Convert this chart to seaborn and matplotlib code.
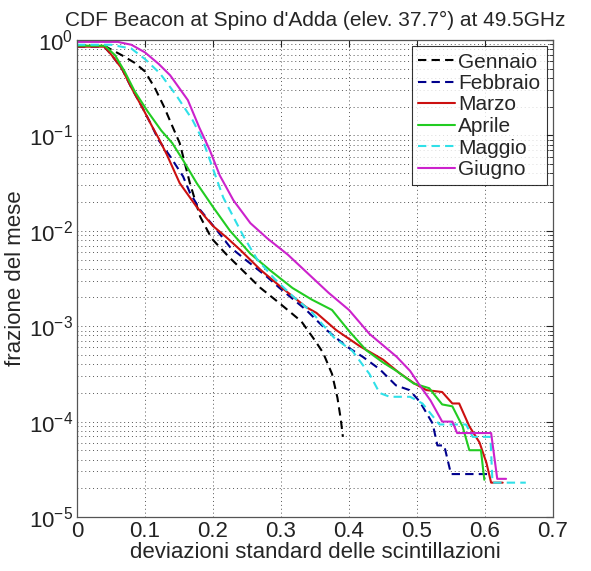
#!/usr/bin/env python3
"""
CDF of scintillation standard deviation, Beacon at Spino d'Adda, 49.5 GHz.
Monthly curves on a log y axis, MATLAB-like look.
"""

import numpy as np
import pandas as pd
import matplotlib
matplotlib.use("Agg")
import matplotlib.pyplot as plt
from matplotlib.ticker import LogLocator, NullFormatter
import seaborn as sns

# ─── Data (x = std dev, y given as log10 of the month fraction) ─────────────
gen_x = [0, 0.04, 0.066, 0.085, 0.10, 0.115, 0.128, 0.14, 0.151, 0.166, 0.181,
         0.198, 0.22, 0.25, 0.27, 0.298, 0.33, 0.35, 0.362, 0.375, 0.383,
         0.388, 0.391]
gen_lg = [-0.06, -0.06, -0.16, -0.24, -0.33, -0.51, -0.70, -0.90, -1.08, -1.50,
          -1.85, -2.08, -2.25, -2.46, -2.60, -2.76, -2.95, -3.15, -3.28, -3.50,
          -3.75, -3.98, -4.16]

feb_x = [0, 0.04, 0.05, 0.066, 0.08, 0.097, 0.11, 0.12, 0.137, 0.156, 0.166,
         0.181, 0.203, 0.225, 0.249, 0.279, 0.298, 0.337, 0.367, 0.396, 0.42,
         0.445, 0.469, 0.489, 0.504, 0.523, 0.530, 0.540, 0.550, 0.603]
feb_lg = [-0.07, -0.07, -0.15, -0.30, -0.50, -0.72, -0.90, -1.05, -1.22, -1.43,
          -1.60, -1.78, -1.97, -2.17, -2.31, -2.48, -2.60, -2.83, -3.04, -3.21,
          -3.32, -3.45, -3.62, -3.67, -3.79, -4.02, -4.25, -4.25, -4.55, -4.55]

mar_x = [0, 0.04, 0.05, 0.066, 0.08, 0.097, 0.11, 0.12, 0.132, 0.151, 0.176,
         0.2, 0.22, 0.24, 0.27, 0.3, 0.337, 0.352, 0.381, 0.416, 0.45, 0.474,
         0.496, 0.514, 0.537, 0.552, 0.562, 0.577, 0.592, 0.602, 0.609, 0.626]
mar_lg = [-0.07, -0.07, -0.15, -0.30, -0.50, -0.72, -0.90, -1.03, -1.20, -1.50,
          -1.75, -1.95, -2.07, -2.20, -2.41, -2.59, -2.80, -2.86, -3.04, -3.21,
          -3.35, -3.49, -3.60, -3.67, -3.69, -3.81, -3.81, -4.05, -4.22, -4.43,
          -4.64, -4.64]

apr_x = [0, 0.041, 0.056, 0.07, 0.085, 0.104, 0.124, 0.14, 0.156, 0.176, 0.2,
         0.225, 0.255, 0.285, 0.317, 0.345, 0.375, 0.40, 0.425, 0.45, 0.47,
         0.495, 0.518, 0.537, 0.552, 0.567, 0.577, 0.594, 0.599]
apr_lg = [-0.06, -0.06, -0.16, -0.33, -0.54, -0.75, -0.95, -1.08, -1.26, -1.50,
          -1.75, -2.00, -2.24, -2.42, -2.60, -2.72, -2.83, -3.05, -3.25, -3.38,
          -3.47, -3.60, -3.65, -3.82, -3.84, -4.05, -4.30, -4.30, -4.61]

mag_x = [0, 0.05, 0.08, 0.10, 0.122, 0.146, 0.17, 0.185, 0.195, 0.215, 0.245,
         0.265, 0.29, 0.318, 0.345, 0.378, 0.405, 0.43, 0.445, 0.46, 0.49,
         0.508, 0.533, 0.572, 0.582, 0.608, 0.611, 0.66]
mag_lg = [-0.05, -0.05, -0.09, -0.20, -0.35, -0.58, -0.84, -1.05, -1.25, -1.65,
          -2.06, -2.30, -2.50, -2.69, -2.85, -3.12, -3.26, -3.50, -3.70, -3.74,
          -3.74, -3.81, -4.03, -4.03, -4.16, -4.16, -4.64, -4.64]

giu_x = [0, 0.06, 0.08, 0.10, 0.12, 0.137, 0.163, 0.18, 0.195, 0.21, 0.23,
         0.255, 0.28, 0.31, 0.34, 0.37, 0.40, 0.43, 0.45, 0.47, 0.49, 0.505,
         0.52, 0.537, 0.552, 0.559, 0.609, 0.618, 0.631]
giu_lg = [-0.02, -0.02, -0.05, -0.13, -0.25, -0.37, -0.63, -0.92, -1.15, -1.42,
          -1.68, -1.92, -2.08, -2.25, -2.45, -2.65, -2.83, -3.08, -3.20, -3.32,
          -3.47, -3.63, -3.78, -4.00, -4.00, -4.12, -4.12, -4.60, -4.60]

months = ["Gennaio", "Febbraio", "Marzo", "Aprile", "Maggio", "Giugno"]
series = [(gen_x, gen_lg), (feb_x, feb_lg), (mar_x, mar_lg),
          (apr_x, apr_lg), (mag_x, mag_lg), (giu_x, giu_lg)]
colors = ["#000000", "#00008C", "#CC1010", "#22CC22", "#30E0E8", "#CC22CC"]
dashed = [True, True, False, False, True, False]

x_ticks = [0, 0.1, 0.2, 0.3, 0.4, 0.5, 0.6, 0.7]
x_ticklabels = ["0", "0.1", "0.2", "0.3", "0.4", "0.5", "0.6", "0.7"]

TITLE = "CDF Beacon at Spino d'Adda (elev. 37.7°) at 49.5GHz"
XLABEL = "deviazioni standard delle scintillazioni"
YLABEL = "frazione del mese"


def build_frame():
    rows = []
    for name, (xs, lgs) in zip(months, series):
        for i, (x, lg) in enumerate(zip(xs, lgs)):
            rows.append({"mese": name, "idx": i, "x": x, "y": 10 ** lg})
    return pd.DataFrame(rows)


def main():
    sns.set_style("white")
    plt.rcParams["font.family"] = ["Liberation Sans", "DejaVu Sans"]
    plt.rcParams["mathtext.fontset"] = "custom"
    plt.rcParams["mathtext.rm"] = "Liberation Sans"

    df = build_frame()

    fig = plt.figure(figsize=(5.91, 5.71), dpi=100)
    ax = fig.add_axes([77 / 591, 54 / 571, 476 / 591, 477 / 571])

    for name, col, dsh in zip(months, colors, dashed):
        sub = df[df["mese"] == name]
        sns.lineplot(data=sub, x="x", y="y", ax=ax, sort=False, estimator=None,
                     color=col, linewidth=1.5, label=name)
        if dsh:
            ax.lines[-1].set_linestyle((0, (4, 2.5)))

    ax.set_yscale("log")
    ax.set_xlim(0, 0.7)
    ax.set_ylim(1e-5, 1)
    ax.set_xticks(x_ticks)
    ax.set_xticklabels(x_ticklabels)
    ax.yaxis.set_major_locator(LogLocator(base=10, numticks=10))
    ax.yaxis.set_minor_locator(LogLocator(base=10, subs=np.arange(2, 10), numticks=20))
    ax.yaxis.set_minor_formatter(NullFormatter())

    ax.grid(True, which="major", axis="both", linestyle=(0, (1, 3)),
            color="#555555", linewidth=0.7)
    ax.grid(True, which="minor", axis="y", linestyle=(0, (1, 3)),
            color="#555555", linewidth=0.7)

    ax.tick_params(which="both", direction="in", top=True, right=True,
                   labelsize=16, colors="#222222")
    ax.tick_params(which="major", length=5, width=0.8, pad=3)
    ax.tick_params(which="minor", length=3, width=0.6)
    for s in ax.spines.values():
        s.set_color("#555555")
        s.set_linewidth(0.9)

    ax.set_xlabel(XLABEL, fontsize=16, labelpad=0)
    ax.set_ylabel(YLABEL, fontsize=16, labelpad=2)
    ax.set_title(TITLE, fontsize=15, pad=10)

    leg = ax.legend(loc="upper right", fontsize=15, frameon=True, fancybox=False,
                    handlelength=1.8, handletextpad=0.15, labelspacing=0.12,
                    borderpad=0.3, borderaxespad=0.3)
    leg.get_frame().set_edgecolor("#000000")
    leg.get_frame().set_linewidth(0.8)

    fig.savefig("out.png", dpi=100)
    plt.close(fig)


if __name__ == "__main__":
    main()
